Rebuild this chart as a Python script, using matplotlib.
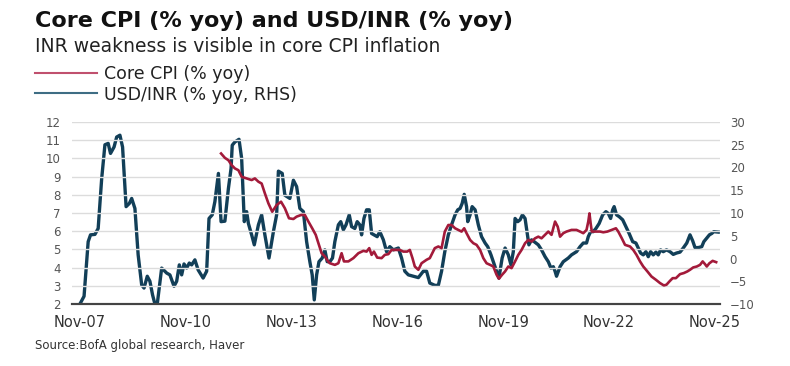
import matplotlib
matplotlib.use("Agg")
import matplotlib.pyplot as plt
from matplotlib.lines import Line2D

# x = months since Nov-07
tick_months = [0, 36, 72, 108, 144, 180, 216]
tick_labels = ["Nov-07", "Nov-10", "Nov-13", "Nov-16", "Nov-19", "Nov-22", "Nov-25"]

# USD/INR % yoy (right axis)
inr_month = [0, 1.4, 2.8, 3.6, 5.1, 6.2, 7.4, 8.5, 9.6, 10.4, 11.6, 12.5, 13.6, 14.5, 15.7, 16.8,
             17.6, 18.7, 19.8, 21.0, 21.8, 22.9, 23.8, 24.7, 25.5, 26.3, 27.8, 29.5, 30.6, 32.0,
             32.9, 33.8, 34.6, 35.4, 36.3, 37.2, 38.0, 39.1, 40.2, 41.9, 43.1, 43.9, 45.0, 45.9,
             47.1, 48.0, 49.3, 50.5, 51.4, 51.8, 52.7, 54.1, 55.0, 55.9, 56.7, 57.3, 58.4, 59.3,
             60.7, 61.8, 62.9, 64.3, 65.8, 66.9, 67.5, 68.8, 69.7, 71.4, 72.6, 73.7, 74.8, 76.0,
             77.1, 78.2, 79.0, 79.7, 80.5, 81.3, 82.4, 83.3, 84.1, 85.0, 85.9, 86.7, 87.9, 88.7,
             89.6, 90.5, 91.6, 92.4, 93.5, 94.3, 95.2, 95.8, 96.6, 97.5, 98.4, 99.2, 100.0, 101.1,
             102.0, 103.2, 104.3, 105.4, 106.6, 108.3, 109.4, 110.5, 111.7, 113.4, 115.1, 116.8,
             117.9, 119.0, 120.7, 121.9, 123.0, 124.1, 125.3, 126.4, 127.6, 128.5, 129.3, 130.0,
             130.7, 131.5, 131.9, 132.7, 133.4, 134.4, 135.5, 136.6, 137.8, 138.7, 139.8, 140.6,
             141.7, 142.5, 143.6, 144.6, 145.7, 146.6, 147.4, 148.0, 148.9, 149.7, 150.5, 151.4,
             151.9, 152.7, 153.6, 154.5, 155.9, 157.0, 158.2, 159.3, 160.2, 161.0, 161.6, 162.1,
             163.3, 164.4, 166.1, 167.2, 168.9, 170.1, 171.2, 172.3, 172.9, 173.7, 174.6, 175.5,
             176.6, 177.8, 178.9, 179.7, 180.5, 181.2, 181.7, 182.5, 183.4, 184.6, 185.7, 186.8,
             188.0, 189.1, 189.9, 190.7, 191.6, 192.5, 193.3, 194.1, 195.0, 195.9, 196.7, 197.5,
             198.4, 199.5, 200.7, 201.8, 202.9, 204.1, 205.2, 206.4, 207.5, 208.4, 209.2, 210.3,
             211.5, 212.2, 213.2, 214.1, 214.9, 215.6, 217.1]
inr_yoy = [-10, -8.3, 3.7, 5.2, 5.3, 6.6, 17.6, 25.0, 25.3, 23.1, 24.5, 26.7, 27.1, 24.5, 11.4, 12.1,
           13.2, 11.0, 0.8, -5.8, -6.5, -3.9, -5.0, -8.0, -10, -10, -2.1, -3.2, -3.6, -6.1,
           -5.0, -1.4, -3.6, -1.2, -2.1, -1.0, -1.4, -0.3, -2.5, -4.3, -2.8, 8.8, 9.6, 12.5,
           18.7, 8.1, 8.2, 15.4, 19.8, 24.9, 25.6, 26.2, 22.0, 8.1, 10.3, 7.7, 5.2, 3.0,
           7.4, 9.6, 5.2, 0.1, 5.9, 9.6, 19.2, 18.7, 13.9, 13.2, 17.2, 15.8, 11.0, 10.3,
           3.7, -0.7, -3.6, -9.1, -3.6, -0.7, 0.1, 1.9, -0.7, -0.7, 0.1, 3.7, 7.4, 8.1,
           6.3, 7.4, 9.6, 7.0, 6.6, 8.1, 7.4, 5.2, 8.8, 10.7, 10.7, 5.5, 5.2, 4.8,
           5.9, 4.1, 1.5, 2.6, 1.9, 2.3, 0.1, -2.8, -3.6, -3.9, -4.2, -2.8,
           -2.8, -5.4, -5.9, -5.9, -2.8, 1.5, 5.2, 7.4, 9.6, 10.7, 11.0, 12.1,
           14.1, 11.4, 8.1, 9.6, 11.4, 10.7, 7.4, 4.8, 3.4, 2.6, 0.8, -0.7,
           -2.8, -4.3, 0.1, 2.3, 0.8, -1.4, 1.5, 8.8, 8.1, 8.5, 9.6, 8.8,
           6.6, 3.0, 4.1, 3.7, 3.0, 1.9, 0.4, -0.7, -2.1, -1.8, -2.8, -3.9,
           -1.8, -0.7, 0.1, 0.8, 1.5, 2.6, 3.4, 3.4, 4.8, 5.9, 5.9, 6.6,
           7.7, 9.6, 10.3, 9.9, 8.8, 10.7, 11.4, 9.6, 9.2, 8.5, 7.0, 5.5,
           3.7, 3.4, 2.3, 1.2, 0.8, 1.5, 0.4, 1.5, 0.8, 1.4, 0.8, 1.9,
           1.5, 1.9, 1.5, 0.9, 1.2, 1.4, 2.3, 3.4, 5.2, 3.9, 2.4, 2.4,
           2.6, 3.7, 4.5, 5.2, 5.5, 5.9, 5.8]

# Core CPI % yoy (left axis)
cpi_month = [48.0, 49.3, 50.5, 51.6, 52.7, 53.9, 55.0, 56.7, 58.4, 59.5, 60.7, 61.8, 62.9, 64.1,
             65.4, 66.9, 68.4, 69.7, 71.1, 72.6, 73.7, 75.2, 76.5, 77.7, 79.0, 80.2, 81.3, 82.2,
             83.3, 84.4, 85.0, 86.7, 87.9, 89.0, 89.8, 91.3, 93.0, 94.7, 96.4, 97.5, 98.4, 99.2,
             100.0, 101.1, 102.6, 103.7, 104.9, 106.0, 107.1, 108.8, 110.0, 111.3, 112.2, 113.1,
             113.9, 115.1, 116.2, 117.9, 119.0, 120.7, 121.9, 123.0, 124.1, 125.3, 126.4, 127.6,
             128.7, 129.8, 130.7, 131.5, 132.7, 133.8, 134.9, 136.1, 137.2, 138.3, 139.5, 140.6,
             141.7, 142.5, 143.6, 144.6, 145.7, 146.8, 148.0, 149.1, 150.2, 151.4, 152.5, 153.6,
             154.8, 155.9, 157.0, 158.2, 159.3, 160.4, 161.6, 162.5, 163.3, 164.4, 165.5, 167.2,
             168.9, 170.1, 171.2, 172.3, 172.9, 173.3, 173.7, 174.1, 175.2, 176.9, 178.0, 179.4,
             180.8, 182.3, 183.1, 184.3, 185.4, 187.1, 188.2, 189.3, 190.5, 191.6, 193.0, 194.4,
             195.9, 197.3, 198.6, 199.5, 200.5, 201.6, 202.7, 204.1, 205.4, 206.6, 207.5, 208.6,
             209.8, 210.9, 211.8, 212.6, 213.2, 214.1, 215.2, 216.4]
cpi_yoy = [10.27, 10.03, 9.9, 9.63, 9.45, 9.35, 8.99, 8.9, 8.81, 8.9, 8.72, 8.62, 8.08, 7.53,
           7.07, 7.44, 7.62, 7.26, 6.71, 6.67, 6.8, 6.89, 6.89, 6.53, 6.16, 5.8, 5.25, 4.79,
           4.61, 4.34, 4.24, 4.15, 4.24, 4.79, 4.34, 4.34, 4.52, 4.79, 4.92, 4.88, 5.07, 4.7,
           4.88, 4.55, 4.52, 4.7, 4.74, 4.97, 4.97, 4.97, 4.88, 4.88, 4.97, 4.52,
           4.06, 3.88, 4.24, 4.43, 4.52, 5.07, 5.16, 5.07, 5.98, 6.34, 6.34, 6.16,
           6.07, 5.98, 6.16, 5.89, 5.52, 5.34, 5.25, 4.97, 4.52, 4.24, 4.15, 4.06,
           3.61, 3.39, 3.61, 3.79, 4.06, 3.97, 4.34, 4.7, 4.97, 5.34, 5.52, 5.43,
           5.61, 5.7, 5.61, 5.8, 5.98, 5.8, 6.53, 6.25, 5.7, 5.89, 5.98, 6.07,
           6.07, 5.98, 5.89, 6.07, 6.53, 6.98, 6.43, 5.98, 5.98, 5.98, 5.94, 5.98,
           6.07, 6.16, 5.98, 5.61, 5.25, 5.16, 4.97, 4.7, 4.34, 4.06, 3.79, 3.51,
           3.33, 3.15, 3.02, 3.06, 3.24, 3.42, 3.42, 3.64, 3.7, 3.79, 3.88, 4.01,
           4.06, 4.15, 4.34, 4.19, 4.06, 4.24, 4.37, 4.3]

red = "#a31a3a"
blue = "#123f58"
grey_txt = "#555555"

fig = plt.figure(figsize=(7.9, 3.66), dpi=100)
ax = fig.add_axes([72 / 790, 1 - 304 / 366, 648 / 790, 182 / 366])
ax2 = ax.twinx()

ax.set_xlim(-2.7, 217.7)
ax.set_ylim(2, 12)
ax2.set_ylim(-10, 30)

# grid
ax.set_yticks(range(2, 13))
ax.grid(axis="y", color="#dcdcdc", linewidth=1)
ax.set_axisbelow(True)
ax2.set_yticks(range(-10, 31, 5))

ax2.plot(inr_month, inr_yoy, color=blue, linewidth=2.4, solid_joinstyle="round")
ax.plot(cpi_month, cpi_yoy, color=red, linewidth=1.9, solid_joinstyle="round", zorder=5)
ax.set_zorder(ax2.get_zorder() + 1)
ax.patch.set_visible(False)

for a in (ax, ax2):
    for s in ("top", "left", "right"):
        a.spines[s].set_visible(False)
    a.spines["bottom"].set_color("#444444")
    a.spines["bottom"].set_linewidth(1.5)
    a.tick_params(length=0, labelsize=8.5, colors=grey_txt)
ax.tick_params(axis="y", pad=8)
ax2.tick_params(axis="y", pad=7)

ax.set_xticks(tick_months)
ax.set_xticklabels(tick_labels, fontsize=10.5, color="#333333")
ax.tick_params(axis="x", pad=8)

fig.text(35 / 790, 1 - 21 / 366, "Core CPI (% yoy) and USD/INR (% yoy)",
         fontsize=16, fontweight="bold", color="#111111", va="center")
fig.text(35 / 790, 1 - 47 / 366, "INR weakness is visible in core CPI inflation",
         fontsize=13.5, color="#222222", va="center")

handles = [Line2D([], [], color="#c0506e", linewidth=1.5),
           Line2D([], [], color="#3e6d84", linewidth=1.5)]
fig.legend(handles, ["Core CPI (% yoy)", "USD/INR (% yoy, RHS)"],
           loc="upper left", bbox_to_anchor=(28 / 790, 1 - 58 / 366),
           frameon=False, fontsize=12.5, handlelength=3.6, handletextpad=0.35,
           labelspacing=0.15, borderaxespad=0, labelcolor="#222222")

fig.text(35 / 790, 1 - 345 / 366, "Source:BofA global research, Haver",
         fontsize=8.5, color="#333333", va="center")

fig.savefig("out.png", dpi=100)
